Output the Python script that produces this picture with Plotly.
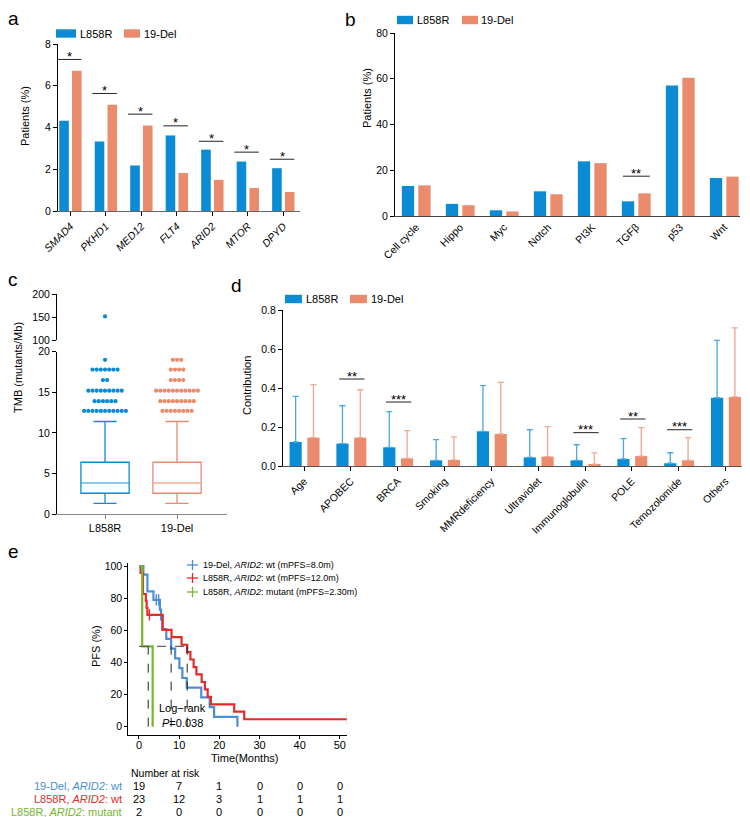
import plotly.graph_objects as go

# the page body keeps its default 8px margin, so the figure is drawn 8px in
W, H = 750, 817
OFF = 8
FIG_W, FIG_H = W - OFF, H - OFF
FONT = "Liberation Sans, Arial, sans-serif"

BLUE = "#0a8bd4"
SALMON = "#e98b6c"
BLUE_ERR = "#4aa8e2"
SALMON_ERR = "#f0a890"
BLUE_MED = "#8cc8ee"
SALMON_MED = "#f5c2b0"
KM_BLUE = "#4a8fd6"
KM_RED = "#e52a2a"
KM_GREEN = "#74b62e"

# ---- panel a : gene mutation frequency
genes = ["SMAD4", "PKHD1", "MED12", "FLT4", "ARID2", "MTOR", "DPYD"]
a_l858r = [4.32, 3.33, 2.18, 3.62, 2.94, 2.37, 2.05]
a_del19 = [6.72, 5.09, 4.10, 1.82, 1.49, 1.10, 0.91]
a_sig_y = [7.26, 5.63, 4.64, 4.08, 3.34, 2.82, 2.48]
a_sig_txt = ["*", "*", "*", "*", "*", "*", "*"]

# ---- panel b : pathways
pathways = ["Cell cycle", "Hippo", "Myc", "Notch", "PI3K", "TGFβ", "p53", "Wnt"]
b_l858r = [13.1, 5.3, 2.5, 10.8, 23.9, 6.4, 57.1, 16.6]
b_del19 = [13.4, 4.7, 2.0, 9.5, 23.1, 9.9, 60.4, 17.2]
b_sig_cat = ["TGFβ"]
b_sig_y = [17.4]
b_sig_txt = ["**"]

# ---- panel c : TMB boxplot (precomputed stats)
groups = ["L858R", "19-Del"]
c_q1 = [2.56, 2.56]
c_median = [3.83, 3.83]
c_q3 = [6.38, 6.38]
c_low = [1.32, 1.32]
c_high = [11.4, 11.4]
out_levels = [12.7, 13.9, 15.2, 16.5, 17.8, 19.0]
out_counts_l858r = [11, 6, 9, 2, 7, 1]
out_counts_del19 = [8, 9, 11, 4, 4, 3]
extreme_l858r = [152]

# ---- panel d : signature contribution
signatures = ["Age", "APOBEC", "BRCA", "Smoking", "MMRdeficiency", "Ultraviolet",
              "Immunoglobulin", "POLE", "Temozolomide", "Others"]
d_l858r = [0.123, 0.115, 0.096, 0.029, 0.178, 0.044, 0.029, 0.036, 0.014, 0.350]
d_l858r_sd = [0.234, 0.194, 0.183, 0.106, 0.234, 0.142, 0.080, 0.104, 0.054, 0.294]
d_del19 = [0.145, 0.145, 0.039, 0.031, 0.164, 0.048, 0.009, 0.051, 0.029, 0.354]
d_del19_sd = [0.272, 0.246, 0.142, 0.118, 0.265, 0.154, 0.058, 0.146, 0.116, 0.354]
d_sig_cat = ["APOBEC", "BRCA", "Immunoglobulin", "POLE", "Temozolomide"]
d_sig_y = [0.446, 0.328, 0.171, 0.241, 0.186]
d_sig_txt = ["**", "***", "***", "**", "***"]

# ---- panel e : Kaplan-Meier steps
km_del19_t = [0, 1.1, 2.1, 3.6, 5.2, 5.5, 5.8, 6.8, 8.0, 9.0, 10.05, 10.8, 11.9, 15.5, 17.6, 18.7, 24.5]
km_del19_s = [100, 94.7, 84.2, 78.9, 72.9, 66.8, 60.7, 54.6, 48.6, 42.5, 36.4, 30.3, 24.3, 18.2, 12.1, 6.1, 0]
km_del19_cens_t = [4.3, 4.9]
km_del19_cens_s = [78.9, 78.9]

km_l858r_t = [0, 0.4, 1.0, 1.7, 1.9, 2.1, 5.9, 8.1, 10.6, 12.0, 12.8, 13.6, 14.3, 15.6, 16.4, 17.1, 17.9, 23.7, 26.2, 51.9]
km_l858r_s = [100, 95.7, 82.6, 78.3, 73.9, 69.6, 60.3, 55.7, 51.0, 46.4, 41.8, 37.1, 32.5, 27.8, 23.2, 18.6, 13.9, 9.3, 4.6, 4.6]
km_l858r_cens_t = [2.6, 51.9]
km_l858r_cens_s = [69.6, 4.6]

km_mut_t = [0, 0.8, 3.4]
km_mut_s = [100, 50, 0]

km_medians = [2.3, 8.0, 12.0]
km_labels = ["19-Del, <i>ARID2</i>: wt (mPFS=8.0m)",
             "L858R, <i>ARID2</i>: wt (mPFS=12.0m)",
             "L858R, <i>ARID2</i>: mutant (mPFS=2.30m)"]
risk_names = ["19-Del, <i>ARID2</i>: wt", "L858R, <i>ARID2</i>: wt", "L858R, <i>ARID2</i>: mutant"]
risk_times = [0, 10, 20, 30, 40, 50]
risk_del19 = [19, 7, 1, 0, 0, 0]
risk_l858r = [23, 12, 3, 1, 1, 1]
risk_mut = [2, 0, 0, 0, 0, 0]


def fx(p):
    return (p - OFF) / FIG_W


def fy(p):
    return 1 - (p - OFF) / FIG_H


fig = go.Figure()
shapes = []
annos = []


def text_at(txt, x, y, size=11, color="black", xanchor="center", angle=0):
    annos.append(dict(xref="paper", yref="paper", x=fx(x), y=fy(y), text=txt, showarrow=False,
                      xanchor=xanchor, yanchor="middle", textangle=angle,
                      font=dict(size=size, color=color)))


def sig_marks(xref, yref, cats, cat_list, ys, txts, left, right):
    for c, y, t in zip(cats, ys, txts):
        i = cat_list.index(c)
        shapes.append(dict(type="line", xref=xref, yref=yref, x0=i + left, x1=i + right,
                           y0=y, y1=y, line=dict(color="#222", width=1)))
        annos.append(dict(xref=xref, yref=yref, x=i + (left + right) / 2, y=y, text=t,
                          showarrow=False, xanchor="center", yanchor="middle", yshift=3,
                          font=dict(size=13, color="black")))


def bar_legend(y, x1, x2, t1, t2):
    for (a, b), col, txt in zip([x1, x2], [BLUE, SALMON], [t1, t2]):
        shapes.append(dict(type="rect", xref="paper", yref="paper", x0=fx(a), x1=fx(b),
                           y0=fy(y + 4.2), y1=fy(y - 4.2), fillcolor=col, line=dict(width=0)))
        text_at(txt, b + 1.5, y, xanchor="left")


# ---------------- panel a
fig.add_trace(go.Bar(x=genes, y=a_l858r, xaxis="x", yaxis="y", marker=dict(color=BLUE, line_width=0),
                     width=0.27, offset=-0.315))
fig.add_trace(go.Bar(x=genes, y=a_del19, xaxis="x", yaxis="y", marker=dict(color=SALMON, line_width=0),
                     width=0.27, offset=0.045))
sig_marks("x", "y", genes, genes, a_sig_y, a_sig_txt, -0.38, 0.31)
bar_legend(33.5, (56, 76), (124, 140), "L858R", "19-Del")

# ---------------- panel b
fig.add_trace(go.Bar(x=pathways, y=b_l858r, xaxis="x2", yaxis="y2", marker=dict(color=BLUE, line_width=0),
                     width=0.28, offset=-0.325))
fig.add_trace(go.Bar(x=pathways, y=b_del19, xaxis="x2", yaxis="y2", marker=dict(color=SALMON, line_width=0),
                     width=0.28, offset=0.05))
sig_marks("x2", "y2", b_sig_cat, pathways, b_sig_y, b_sig_txt, -0.3, 0.31)
bar_legend(20, (397, 413), (462, 478), "L858R", "19-Del")

# ---------------- panel c
for gi, col, med_col, counts in [(0, BLUE, BLUE_MED, out_counts_l858r), (1, SALMON, SALMON_MED, out_counts_del19)]:
    fig.add_trace(go.Box(x=[gi], q1=[c_q1[gi]], median=[c_median[gi]], q3=[c_q3[gi]],
                         lowerfence=[c_low[gi]], upperfence=[c_high[gi]], orientation="v",
                         xaxis="x3", yaxis="y3", width=0.67, whiskerwidth=0.48, boxpoints=False,
                         fillcolor="rgba(255,255,255,0)", line=dict(color=col, width=1.3)))
    fig.add_trace(go.Scatter(x=[gi - 0.325, gi + 0.325], y=[c_median[gi]] * 2, xaxis="x3", yaxis="y3",
                             mode="lines", line=dict(color=med_col, width=1.6), hoverinfo="skip"))
    xs, ys = [], []
    for lev, n in zip(out_levels, counts):
        for k in range(n):
            xs.append(gi + (k - (n - 1) / 2) * 0.058)
            ys.append(lev)
    fig.add_trace(go.Scatter(x=xs, y=ys, xaxis="x3", yaxis="y3", mode="markers",
                             marker=dict(color=col, size=4.2, line_width=0)))
fig.add_trace(go.Scatter(x=[0] * len(extreme_l858r), y=extreme_l858r, xaxis="x3", yaxis="y4",
                         mode="markers", marker=dict(color=BLUE, size=4.2, line_width=0)))

# ---------------- panel d
fig.add_trace(go.Bar(x=signatures, y=d_l858r, xaxis="x4", yaxis="y5",
                     marker=dict(color=BLUE, line_width=0), width=0.26, offset=-0.31,
                     error_y=dict(type="data", array=d_l858r_sd, arrayminus=[0] * len(d_l858r),
                                  symmetric=False, color=BLUE_ERR, thickness=1.3, width=3)))
fig.add_trace(go.Bar(x=signatures, y=d_del19, xaxis="x4", yaxis="y5",
                     marker=dict(color=SALMON, line_width=0), width=0.26, offset=0.07,
                     error_y=dict(type="data", array=d_del19_sd, arrayminus=[0] * len(d_del19),
                                  symmetric=False, color=SALMON_ERR, thickness=1.3, width=3)))
sig_marks("x4", "y5", d_sig_cat, signatures, d_sig_y, d_sig_txt, -0.25, 0.29)
bar_legend(299, (285, 302), (350, 367), "L858R", "19-Del")

# ---------------- panel e
for t, s, col in [(km_del19_t, km_del19_s, KM_BLUE), (km_l858r_t, km_l858r_s, KM_RED),
                  (km_mut_t, km_mut_s, KM_GREEN)]:
    fig.add_trace(go.Scatter(x=t, y=s, xaxis="x5", yaxis="y6", mode="lines",
                             line=dict(color=col, width=2.2, shape="hv")))
for t, s, col in [(km_del19_cens_t, km_del19_cens_s, KM_BLUE), (km_l858r_cens_t, km_l858r_cens_s, KM_RED)]:
    fig.add_trace(go.Scatter(x=t, y=s, xaxis="x5", yaxis="y6", mode="markers",
                             marker=dict(symbol="line-ns", size=8, line=dict(color=col, width=1.4))))

shapes.append(dict(type="line", xref="x5", yref="y6", x0=0, x1=max(km_medians), y0=50, y1=50,
                   line=dict(color="#666", width=1.3, dash="dash")))
for m in km_medians:
    shapes.append(dict(type="line", xref="x5", yref="y6", x0=m, x1=m, y0=0, y1=50,
                       line=dict(color="#222", width=1, dash="dash")))
for txt, yv in [("Log−rank", 11.5), ("<i>P</i>=0.038", 2)]:
    annos.append(dict(xref="x5", yref="y6", x=10.8, y=yv, text=txt, showarrow=False,
                      xanchor="center", yanchor="middle", font=dict(size=11, color="black")))

# KM legend
for lab, col, yy in zip(km_labels, [KM_BLUE, KM_RED, KM_GREEN], [565, 578, 592]):
    shapes.append(dict(type="line", xref="paper", yref="paper", x0=fx(187), x1=fx(198),
                       y0=fy(yy), y1=fy(yy), line=dict(color=col, width=1.3)))
    shapes.append(dict(type="line", xref="paper", yref="paper", x0=fx(192.5), x1=fx(192.5),
                       y0=fy(yy - 5), y1=fy(yy + 5), line=dict(color=col, width=1.3)))
    text_at(lab, 201, yy, size=9, xanchor="left")

# number at risk table
text_at("Number at risk", 129, 773, size=10.5, xanchor="left")
for name, vals, col, yy in zip(risk_names, [risk_del19, risk_l858r, risk_mut],
                               [KM_BLUE, KM_RED, KM_GREEN], [786, 799, 811.5]):
    text_at(name, 124.5, yy, color=col, xanchor="right")
    for tt, v in zip(risk_times, vals):
        annos.append(dict(xref="x5", yref="paper", x=tt, y=fy(yy), text=str(v), showarrow=False,
                          xanchor="center", yanchor="middle", font=dict(size=11, color="black")))

# axis titles and panel letters
for txt, x, y in [("Patients (%)", 25, 116), ("Patients (%)", 367, 98), ("TMB (mutants/Mb)", 18, 368),
                  ("Contribution", 247, 386), ("PFS (%)", 96, 646)]:
    text_at(txt, x, y, angle=-90)
text_at("Time(Months)", 244, 758)
for lt, x, y in [("a", 13, 19), ("b", 350, 19.5), ("c", 13, 279.5), ("d", 236, 285), ("e", 13, 551)]:
    text_at(lt, x, y, size=19)

ax = dict(showline=True, linecolor="black", linewidth=1, ticks="outside", ticklen=4,
          tickcolor="black", tickwidth=1, showgrid=False, zeroline=False, automargin=False,
          tickfont=dict(size=10.5, color="black", family=FONT))

fig.update_layout(
    width=FIG_W, height=FIG_H, margin=dict(l=0, r=0, t=0, b=0, pad=0, autoexpand=False),
    paper_bgcolor="white", plot_bgcolor="white", showlegend=False,
    font=dict(family=FONT, color="black"),
    barmode="overlay",
    xaxis={**ax, "domain": [fx(58), fx(300)], "anchor": "y", "type": "category",
           "categoryorder": "array", "categoryarray": genes, "range": [-0.35, 6.47],
           "tickangle": -45, "linecolor": "#666",
           "tickfont": dict(size=10.5, color="black", family=FONT, style="italic")},
    yaxis={**ax, "domain": [fy(211), fy(44)], "anchor": "x", "range": [0, 8], "dtick": 2},
    xaxis2={**ax, "domain": [fx(395), fx(740)], "anchor": "y2", "type": "category",
            "categoryorder": "array", "categoryarray": pathways, "range": [-0.48, 7.36],
            "tickangle": -45, "ticks": "", "linecolor": "#444"},
    yaxis2={**ax, "domain": [fy(216), fy(33)], "anchor": "x2", "range": [0, 80], "dtick": 20},
    xaxis3={**ax, "domain": [fx(57), fx(227)], "anchor": "y3", "range": [-0.667, 1.694],
            "tickvals": [0, 1], "ticktext": groups, "linecolor": "#888", "tickcolor": "#888",
            "tickfont": dict(size=11, color="black", family=FONT)},
    yaxis3={**ax, "domain": [fy(514), fy(351.7)], "anchor": "x3", "range": [0, 20],
            "tickvals": [0, 5, 10, 15, 20]},
    yaxis4={**ax, "domain": [fy(340.3), fy(294.3)], "anchor": "x3", "range": [100, 200],
            "tickvals": [100, 150, 200]},
    xaxis4={**ax, "domain": [fx(283), fx(748)], "anchor": "y5", "type": "category",
            "categoryorder": "array", "categoryarray": signatures, "range": [-0.45, 9.48],
            "tickangle": -45, "linecolor": "#555"},
    yaxis5={**ax, "domain": [fy(466), fy(310)], "anchor": "x4", "range": [0, 0.8],
            "dtick": 0.2, "tickformat": ".1f"},
    xaxis5={**ax, "domain": [fx(128.3), fx(346.7)], "anchor": "y6", "range": [-2.66, 51.7],
            "tickvals": [0, 10, 20, 30, 40, 50], "ticklen": 3, "ticklabelstandoff": -3,
            "tickfont": dict(size=11, color="black", family=FONT)},
    yaxis6={**ax, "domain": [fy(735), fy(563)], "anchor": "x5", "range": [-5.2, 101.9],
            "tickvals": [0, 20, 40, 60, 80, 100], "ticklen": 3,
            "tickfont": dict(size=10.5, color="black", family=FONT)},
    shapes=shapes,
    annotations=annos,
)

fig.write_html("out.html")
